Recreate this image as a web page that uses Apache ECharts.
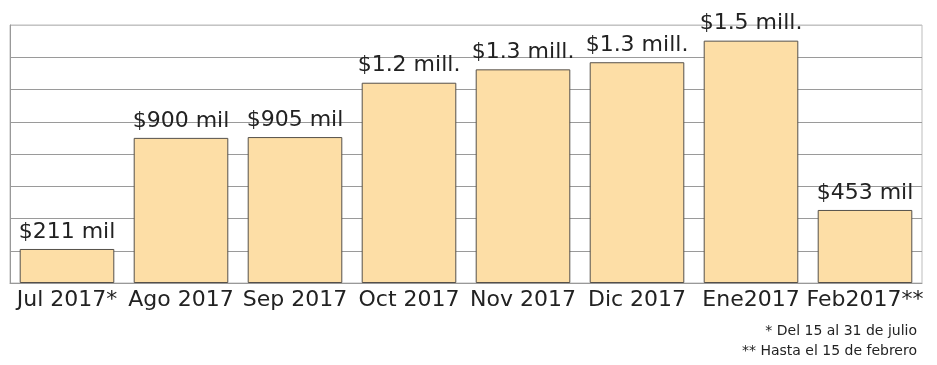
<!DOCTYPE html>
<html>
<head>
<meta charset="utf-8">
<script src="https://cdn.jsdelivr.net/npm/echarts@6/dist/echarts.min.js"></script>
<style>
html,body{margin:0;padding:0;background:#fff;}
#chart{width:937px;height:365px;}
</style>
</head>
<body>
<div id="chart"></div>
<script>
const categories = ['Jul 2017*', 'Ago 2017', 'Sep 2017', 'Oct 2017', 'Nov 2017', 'Dic 2017', 'Ene2017', 'Feb2017**'];
const values = [211, 900, 905, 1242, 1325, 1369, 1503, 453];
const valueLabels = ['$211 mil', '$900 mil', '$905 mil', '$1.2 mill.', '$1.3 mill.', '$1.3 mill.', '$1.5 mill.', '$453 mil'];
const footnotes = ['* Del 15 al 31 de julio', '** Hasta el 15 de febrero'];

const FONT = 'DejaVu Sans';
const chart = echarts.init(document.getElementById('chart'), null, {renderer: 'canvas'});
chart.setOption({
  animation: false,
  backgroundColor: '#fff',
  textStyle: {fontFamily: FONT},
  title: footnotes.map((t, i) => ({
    text: t,
    right: 20,
    top: 324 + i * 20,
    padding: 0,
    textStyle: {fontFamily: FONT, fontSize: 14, fontWeight: 'normal', color: '#222'}
  })),
  grid: {left: 10, right: 15, top: 25, bottom: 82, show: true, borderColor: '#bdbdbd', borderWidth: 1},
  xAxis: {
    type: 'category',
    data: categories,
    axisTick: {show: false},
    axisLine: {show: true, lineStyle: {color: '#999', width: 1}},
    axisLabel: {fontFamily: FONT, fontSize: 22, color: '#222', margin: 6, interval: 0}
  },
  yAxis: {
    type: 'value',
    min: 0,
    max: 1600,
    interval: 200,
    axisLabel: {show: false},
    axisTick: {show: false},
    axisLine: {show: true, lineStyle: {color: '#999'}},
    splitLine: {show: true, lineStyle: {color: ['#9a9a9a','#9a9a9a','#9a9a9a','#9a9a9a','#9a9a9a','#9a9a9a','#9a9a9a','#9a9a9a','#c4c4c4'], width: 1}}
  },
  series: [{
    type: 'bar',
    data: values,
    barCategoryGap: '17%',
    itemStyle: {color: '#FDDEA6', borderColor: '#55504a', borderWidth: 1},
    label: {
      show: true,
      position: 'top',
      distance: 6,
      fontFamily: FONT,
      fontSize: 22,
      color: '#222',
      formatter: p => valueLabels[p.dataIndex]
    }
  }]
});
</script>
</body>
</html>
